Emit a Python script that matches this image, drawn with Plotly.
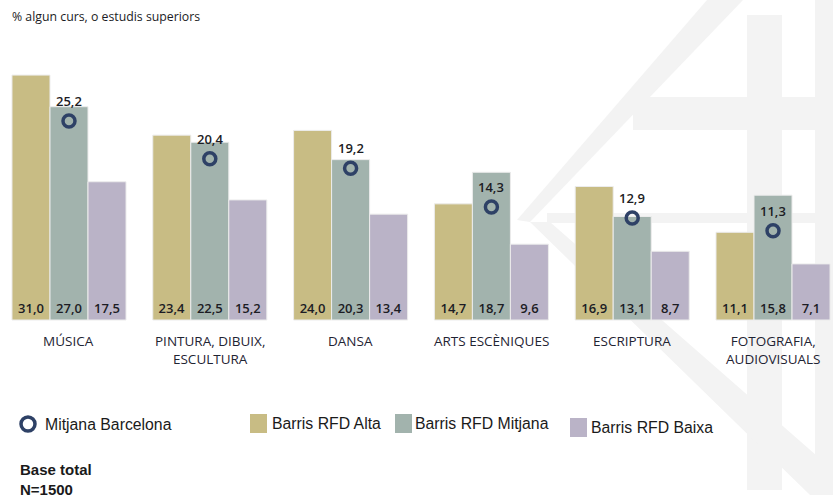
import plotly.graph_objects as go

categories = ["MÚSICA", "PINTURA, DIBUIX,<br>ESCULTURA", "DANSA", "ARTS ESCÈNIQUES",
              "ESCRIPTURA", "FOTOGRAFIA,<br>AUDIOVISUALS"]
alta = [31.0, 23.4, 24.0, 14.7, 16.9, 11.1]
mitjana = [27.0, 22.5, 20.3, 18.7, 13.1, 15.8]
baixa = [17.5, 15.2, 13.4, 9.6, 8.7, 7.1]
barcelona = [25.2, 20.4, 19.2, 14.3, 12.9, 11.3]

series_names = ["Barris RFD Alta", "Barris RFD Mitjana", "Barris RFD Baixa"]
colors = ["#c8bc84", "#a2b3ad", "#bab3c7"]
navy = "#2e4166"

W, H = 833, 498


def fmt(v):
    return f"{v:.1f}".replace(".", ",")


def px(x):
    return x / W


def py(y):
    return 1 - y / H


fig = go.Figure()
x_idx = list(range(len(categories)))

num_font = dict(family="Open Sans", size=13, color="#1c1c24", weight=600)

for name, vals, col in zip(series_names, [alta, mitjana, baixa], colors):
    fig.add_trace(go.Bar(
        x=x_idx, y=vals, name=name,
        marker=dict(color=col, line=dict(color="#ececec", width=1)),
        text=[fmt(v) for v in vals], textposition="inside",
        insidetextanchor="start", textangle=0, constraintext="none",
        textfont=num_font,
        hoverinfo="skip", showlegend=False))

fig.add_trace(go.Scatter(
    x=x_idx, y=barcelona, mode="markers", name="Mitjana Barcelona",
    marker=dict(symbol="circle-open", size=12, color=navy, line=dict(width=3.5)),
    hoverinfo="skip", showlegend=False))

annotations = []
for i, v in enumerate(barcelona):
    annotations.append(dict(x=i, y=v, xref="x", yref="y", text=fmt(v), showarrow=False,
                            yshift=20, yanchor="middle", font=num_font))
for i, c in enumerate(categories):
    annotations.append(dict(x=i, y=py(330), xref="x", yref="paper", text=c, showarrow=False,
                            yanchor="top", align="center",
                            font=dict(family="Open Sans", size=13.5, color="#1f2433")))

annotations.append(dict(x=px(10), y=py(17), xref="paper", yref="paper", xanchor="left",
                        yanchor="middle", text="% algun curs, o estudis superiors",
                        showarrow=False,
                        font=dict(family="Open Sans", size=12.3, color="#1c1c24")))

legend_font = dict(family="Liberation Sans, Arial", size=15.8, color="#1a1a1a")
annotations.append(dict(x=px(43), y=py(424), xref="paper", yref="paper", xanchor="left",
                        yanchor="middle", text="Mitjana Barcelona", showarrow=False,
                        font=legend_font))
leg_pos = [(250, 270, 423), (395, 413, 423), (570, 589, 427)]
shapes = []

# faint watermark behind the chart
wm = "#f3f3f3"
wm_paths = [
    "M 517 220 L 707 0 L 743 0 L 530 222 Z",
    "M 747 15 L 782 15 L 782 490 L 747 490 Z",
    "M 633 97 L 833 97 L 833 130 L 633 130 Z",
    "M 547 213 L 833 213 L 833 223 L 547 223 Z",
    "M 530 222 L 550 222 L 833 470 L 833 495 L 810 495 Z",
    "M 815 0 L 833 0 L 833 495 L 815 495 Z",
]
for p in wm_paths:
    pts = p.split()
    path = ""
    k = 0
    while k < len(pts):
        if pts[k] in ("M", "L"):
            path += f"{pts[k]} {px(float(pts[k+1])):.5f},{py(float(pts[k+2])):.5f} "
            k += 3
        else:
            path += pts[k]
            k += 1
    shapes.append(dict(type="path", path=path, xref="paper", yref="paper",
                       fillcolor=wm, line=dict(width=0), layer="below"))

for (sx, tx, ty), name, col in zip(leg_pos, series_names, colors):
    shapes.append(dict(type="rect", xref="paper", yref="paper",
                       x0=px(sx), x1=px(sx + 17), y0=py(ty - 9), y1=py(ty + 10),
                       fillcolor=col, line=dict(width=0)))
    annotations.append(dict(x=px(tx), y=py(ty), xref="paper", yref="paper", xanchor="left",
                            yanchor="middle", text=name, showarrow=False, font=legend_font))

shapes.append(dict(type="circle", xref="paper", yref="paper",
                   x0=px(21), x1=px(35), y0=py(417), y1=py(431),
                   line=dict(color=navy, width=3.5), fillcolor="rgba(0,0,0,0)"))

annotations.append(dict(x=px(18), y=py(479), xref="paper", yref="paper", xanchor="left",
                        yanchor="middle", align="left", text="<b>Base total<br>N=1500</b>",
                        showarrow=False,
                        font=dict(family="Liberation Sans, Arial", size=15, color="#1a1a1a")))

scale = 7.9
fig.update_layout(
    width=W, height=H,
    margin=dict(l=0, r=0, t=0, b=0),
    paper_bgcolor="white", plot_bgcolor="rgba(0,0,0,0)",
    barmode="group", bargap=0.19, bargroupgap=0,
    xaxis=dict(range=[-0.49, 5.426], visible=False, fixedrange=True),
    yaxis=dict(range=[-178 / scale, 320 / scale], visible=False, fixedrange=True),
    annotations=annotations, shapes=shapes,
    showlegend=False,
)

fig.write_html("out.html", config={"displayModeBar": False},
               post_script="document.body.style.margin='0';document.body.style.overflow='hidden';")
